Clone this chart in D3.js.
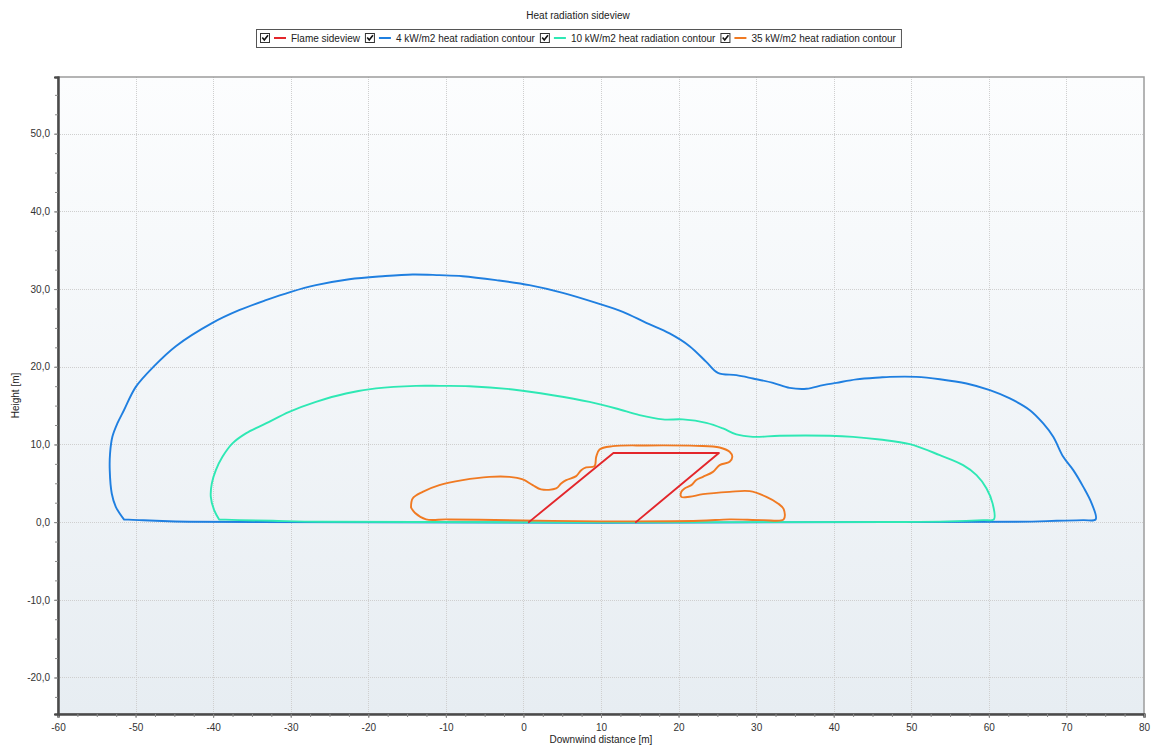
<!DOCTYPE html>
<html>
<head>
<meta charset="utf-8">
<script src="https://cdn.jsdelivr.net/npm/d3@7"></script>
<style>
  html, body { margin: 0; padding: 0; background: #ffffff; }
  svg { display: block; font-family: "Liberation Sans", Arial, sans-serif; }
</style>
</head>
<body>
<svg id="chart" width="1156" height="749"></svg>
<script>
// Chart title and axis titles
const chartTitle = "Heat radiation sideview";
const xTitle = "Downwind distance [m]";
const yTitle = "Height [m]";

// Axis ranges and tick steps
const xDomain = [-60, 80];
const yDomain = [-24.7, 57.3];
const xMajorTicks = d3.range(-60, 80.01, 10);
const yMajorTicks = d3.range(-20, 50.01, 10);
const minorStep = 2.5;

// Series names and colours (legend order)
const seriesNames = [
  "Flame sideview",
  "4 kW/m2 heat radiation contour",
  "10 kW/m2 heat radiation contour",
  "35 kW/m2 heat radiation contour"
];
const seriesColors = ["#e3262b", "#1f7fe0", "#2ee8b4", "#f07a22"];

// Flame outline [x, height] (tilted flame, open at ground level)
const flame = [[0.7, 0], [11.6, 8.9], [25.2, 8.9], [14.5, 0]];

// 4 kW/m2 contour [x, height]
const contour4 = [
  [-51.5, 0.35], [-52.55, 1.97], [-53.07, 3.69], [-53.33, 6.69], [-53.29, 8.84],
  [-52.99, 10.98], [-52.35, 12.7], [-51.5, 14.4], [-49.97, 17.41], [-47.61, 20.08],
  [-44.81, 22.65], [-40.09, 25.65], [-36.65, 27.28], [-33.2, 28.57], [-29.97, 29.64],
  [-26.75, 30.5], [-22.45, 31.27], [-18.15, 31.66], [-14.28, 31.88], [-10.84, 31.79],
  [-7.83, 31.66], [-3.52, 31.15], [0.77, 30.5], [5.07, 29.51], [9.38, 28.22],
  [12.81, 27.07], [15.83, 25.65], [18.84, 24.29], [21.42, 22.65], [23.57, 20.63],
  [25.07, 19.21], [27.45, 18.92], [29.59, 18.49], [32.17, 17.93], [34.32, 17.28],
  [36.48, 17.16], [38.62, 17.63], [40.35, 17.93], [42.93, 18.37], [45.94, 18.62],
  [47.23, 18.7], [50.67, 18.7], [53.68, 18.4], [57.12, 17.85], [60.13, 16.99],
  [62.71, 15.92], [65.29, 14.41], [67.01, 12.7], [68.3, 10.98], [69.59, 8.4],
  [70.88, 6.69], [72.17, 4.54], [73.25, 2.41], [73.77, 0.35], [72.17, 0.26],
  [68.74, 0.17], [63.57, 0.05], [-43.1, 0.04], [-47.39, 0.17], [-49.55, 0.26],
  [-51.5, 0.35]
];

// 10 kW/m2 contour [x, height]
const contour10 = [
  [-39.23, 0.35], [-39.87, 1.54], [-40.3, 3.26], [-40.17, 4.98], [-39.65, 6.69],
  [-38.8, 8.4], [-37.51, 10.13], [-35.78, 11.42], [-33.2, 12.7], [-30.19, 14.2],
  [-26.75, 15.48], [-22.88, 16.56], [-19.01, 17.21], [-13.85, 17.54], [-10.84, 17.54],
  [-6.97, 17.5], [-1.38, 17.08], [3.78, 16.34], [8.52, 15.48], [11.96, 14.63],
  [14.97, 13.77], [17.97, 13.22], [20.55, 13.22], [23.57, 12.78], [25.72, 12.06],
  [27.45, 11.29], [29.59, 10.98], [33.03, 11.11], [39.48, 11.11], [42.49, 10.98],
  [45.94, 10.64], [49.81, 10.04], [53.68, 8.62], [56.68, 7.34], [58.41, 6.05],
  [59.7, 4.34], [60.48, 2.41], [60.65, 0.35], [59.26, 0.26], [54.97, 0.09],
  [48.52, 0.02], [-25.9, 0.04], [-32.35, 0.17], [-36.65, 0.26], [-39.23, 0.35]
];

// 35 kW/m2 contour [x, height]
const contour35 = [
  [-14.49, 1.9], [-14.28, 3.05], [-12.99, 3.9], [-10.84, 4.76], [-7.83, 5.41],
  [-4.39, 5.83], [-1.81, 5.83], [-0.09, 5.5], [1.2, 4.76], [2.28, 4.21],
  [4.22, 4.34], [4.86, 4.98], [5.51, 5.41], [6.8, 5.92], [7.45, 6.69],
  [8.09, 7.04], [9.16, 7.21], [9.38, 8.4], [9.81, 9.36], [11.52, 9.78],
  [15.83, 9.87], [22.28, 9.82], [25.29, 9.61], [26.58, 9.05], [26.93, 8.4],
  [26.58, 7.76], [25.29, 7.34], [24.43, 6.47], [23.14, 5.83], [22.28, 5.41],
  [21.64, 4.76], [20.77, 4.34], [20.35, 3.9], [20.35, 3.26], [21.42, 3.26],
  [23.14, 3.6], [26.58, 3.9], [29.16, 3.99], [31.32, 3.26], [32.81, 2.41],
  [33.55, 1.67], [33.55, 0.35], [30.88, 0.26], [26.58, 0.35], [22.71, 0.17],
  [10.0, 0.1], [-5.68, 0.3], [-9.97, 0.35], [-12.55, 0.35], [-14.0, 1.2],
  [-14.49, 1.9]
];

const seriesData = [flame, contour4, contour10, contour35];
// drawing order: contours from outer to inner, flame on top
const drawOrder = [1, 2, 3, 0];

const svg = d3.select("#chart");
const W = 1156, H = 749;
const plot = { left: 58, right: 1144, top: 77, bottom: 714 };

const x = d3.scaleLinear().domain(xDomain).range([plot.left, plot.right]);
const y = d3.scaleLinear().domain(yDomain).range([plot.bottom, plot.top]);

// plot background gradient
const defs = svg.append("defs");
const grad = defs.append("linearGradient")
  .attr("id", "plotBg").attr("x1", 0).attr("y1", 0).attr("x2", 0).attr("y2", 1);
grad.append("stop").attr("offset", "0%").attr("stop-color", "#fcfdfe");
grad.append("stop").attr("offset", "100%").attr("stop-color", "#e7edf2");

defs.append("clipPath").attr("id", "plotClip")
  .append("rect")
  .attr("x", plot.left).attr("y", plot.top)
  .attr("width", plot.right - plot.left).attr("height", plot.bottom - plot.top);

svg.append("rect")
  .attr("x", plot.left).attr("y", plot.top)
  .attr("width", plot.right - plot.left).attr("height", plot.bottom - plot.top)
  .attr("fill", "url(#plotBg)");

// dotted grid
const grid = svg.append("g").attr("class", "grid");
grid.selectAll("line.vx").data(xMajorTicks.filter(v => v > xDomain[0] && v < xDomain[1]))
  .join("line")
  .attr("x1", d => Math.round(x(d)) + 0.5).attr("x2", d => Math.round(x(d)) + 0.5)
  .attr("y1", plot.top).attr("y2", plot.bottom)
  .attr("stroke", "#cfcfcf").attr("stroke-width", 1).attr("stroke-dasharray", "1,1");
grid.selectAll("line.hy").data(yMajorTicks)
  .join("line")
  .attr("y1", d => Math.round(y(d)) + 0.5).attr("y2", d => Math.round(y(d)) + 0.5)
  .attr("x1", plot.left).attr("x2", plot.right)
  .attr("stroke", "#cfcfcf").attr("stroke-width", 1).attr("stroke-dasharray", "1,1");

// frame (top / right)
svg.append("rect")
  .attr("x", plot.left).attr("y", plot.top)
  .attr("width", plot.right - plot.left).attr("height", plot.bottom - plot.top)
  .attr("fill", "none").attr("stroke", "#9c9c9c").attr("stroke-width", 1.5);

// series lines: smooth contours, straight flame edges
const contourLine = d3.line().x(d => x(d[0])).y(d => y(d[1])).curve(d3.curveCatmullRom.alpha(0.5));
const straightLine = d3.line().x(d => x(d[0])).y(d => y(d[1]));
const marks = svg.append("g").attr("clip-path", "url(#plotClip)");
drawOrder.forEach(i => {
  marks.append("path")
    .datum(seriesData[i])
    .attr("d", i === 0 ? straightLine : contourLine)
    .attr("fill", "none")
    .attr("stroke", seriesColors[i])
    .attr("stroke-width", 1.9)
    .attr("stroke-linejoin", "round")
    .attr("stroke-linecap", "round");
});

// axes
const fmtY = v => v.toFixed(1).replace(".", ",");
const fmtX = v => String(v);
const xMinor = d3.range(xDomain[0], xDomain[1] + 0.01, minorStep);
const yMinor = d3.range(Math.ceil(yDomain[0] / minorStep) * minorStep, yDomain[1], minorStep);

const xAxis = svg.append("g").attr("transform", `translate(0,${plot.bottom})`)
  .call(d3.axisBottom(x).tickValues(xMajorTicks).tickFormat(fmtX).tickSize(4).tickPadding(6));
const xAxisMinor = svg.append("g").attr("transform", `translate(0,${plot.bottom})`)
  .call(d3.axisBottom(x).tickValues(xMinor).tickFormat("").tickSize(3));
const yAxis = svg.append("g").attr("transform", `translate(${plot.left},0)`)
  .call(d3.axisLeft(y).tickValues(yMajorTicks).tickFormat(fmtY).tickSize(4).tickPadding(4));
const yAxisMinor = svg.append("g").attr("transform", `translate(${plot.left},0)`)
  .call(d3.axisLeft(y).tickValues(yMinor).tickFormat("").tickSize(3));

[xAxis, xAxisMinor, yAxis, yAxisMinor].forEach(g => {
  g.select(".domain").attr("stroke", "#4a4a4a").attr("stroke-width", 2);
  g.selectAll(".tick line").attr("stroke", "#8a8a8a");
  g.selectAll(".tick text").attr("fill", "#333").style("font-size", "10px")
    .style("font-family", "'Liberation Sans', Arial, sans-serif");
});

// axis titles
svg.append("text")
  .attr("x", (plot.left + plot.right) / 2).attr("y", 743)
  .attr("text-anchor", "middle").attr("fill", "#222").style("font-size", "10px")
  .text(xTitle);
svg.append("text")
  .attr("transform", `translate(19,${(plot.top + plot.bottom) / 2}) rotate(-90)`)
  .attr("text-anchor", "middle").attr("fill", "#222").style("font-size", "10px")
  .text(yTitle);

// title
svg.append("text")
  .attr("x", W / 2).attr("y", 19)
  .attr("text-anchor", "middle").attr("fill", "#222").style("font-size", "10px")
  .text(chartTitle);

// legend with check boxes
const legend = svg.append("g");
const legY = 29, legH = 18;
let cx = 0;
seriesNames.forEach((name, i) => {
  const g = legend.append("g");
  g.append("rect").attr("x", cx + 0.5).attr("y", legY + 4.5).attr("width", 9).attr("height", 9)
    .attr("fill", "#fff").attr("stroke", "#333").attr("stroke-width", 1);
  g.append("path")
    .attr("d", `M${cx + 2.3},${legY + 8.6} L${cx + 4.3},${legY + 11} L${cx + 8},${legY + 6.2}`)
    .attr("fill", "none").attr("stroke", "#111").attr("stroke-width", 1.6);
  g.append("line")
    .attr("x1", cx + 14).attr("x2", cx + 26)
    .attr("y1", legY + 9).attr("y2", legY + 9)
    .attr("stroke", seriesColors[i]).attr("stroke-width", 2);
  const t = g.append("text")
    .attr("x", cx + 31).attr("y", legY + 12.5)
    .attr("fill", "#222").style("font-size", "10px")
    .text(name);
  const tw = t.node().getComputedTextLength();
  cx += 31 + tw + 5;
});
const legW = cx + 4;
const legX = Math.round(W / 2 - legW / 2);
legend.attr("transform", `translate(${legX + 4},0)`);
svg.insert("rect", "g")
  .attr("x", legX + 0.5).attr("y", legY + 0.5)
  .attr("width", legW).attr("height", legH)
  .attr("fill", "#fff").attr("stroke", "#555").attr("stroke-width", 1);
</script>
</body>
</html>
